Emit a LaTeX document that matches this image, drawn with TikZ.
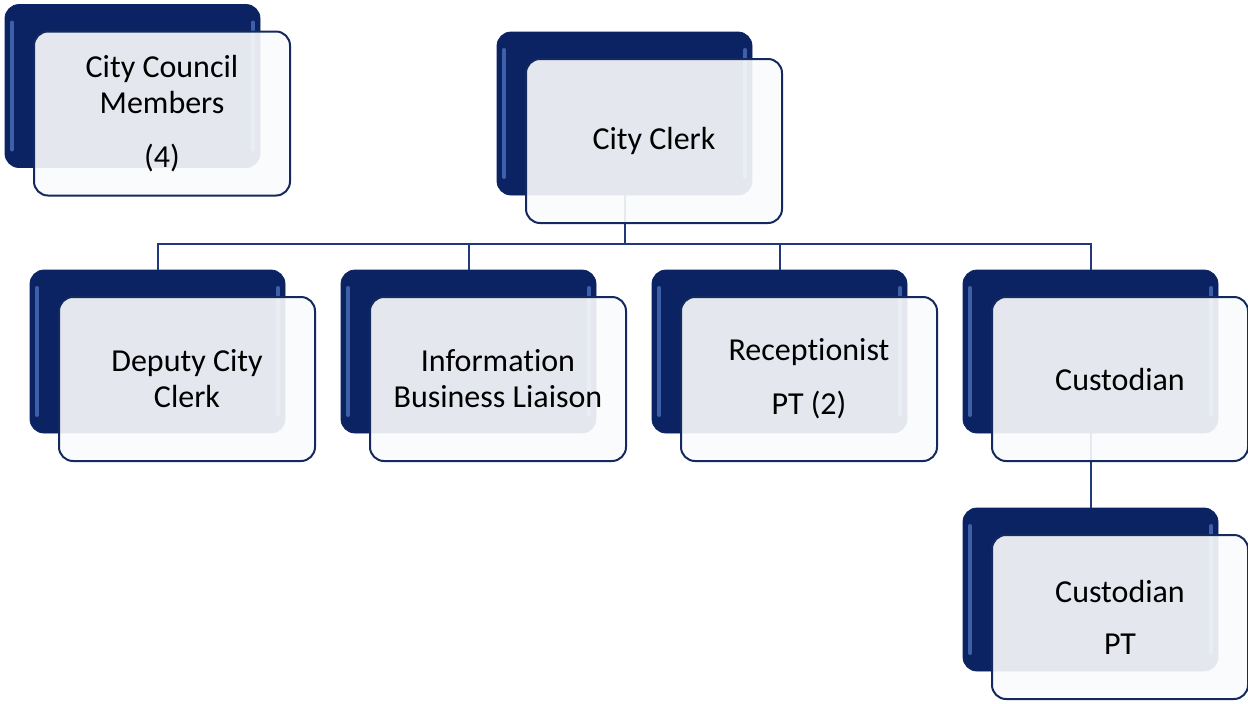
\documentclass[tikz,border=0pt]{standalone}
\usepackage{fontspec}
\setmainfont{Carlito}[Ligatures=NoCommon]
\usetikzlibrary{positioning}
\definecolor{navy}{HTML}{0B2362}
\definecolor{edgeblue}{HTML}{4F74C0}
\definecolor{frameblue}{HTML}{14295E}
\definecolor{frontfill}{HTML}{FAFBFC}
\definecolor{linkblue}{HTML}{21397A}
\begin{document}
\begin{tikzpicture}[x=0.5pt, y=-0.5pt,
    back/.style={rectangle, rounded corners=7pt, fill=navy, draw=navy, inner sep=0pt, outer sep=0pt,
      minimum width=127.5pt, minimum height=81.5pt,
      path picture={\draw[edgeblue!75!navy, line width=2pt, line cap=round]
        ([shift={(3.5pt,-9pt)}]path picture bounding box.north west) -- ([shift={(3.5pt,9pt)}]path picture bounding box.south west)
        ([shift={(-3.5pt,-9pt)}]path picture bounding box.north east) -- ([shift={(-3.5pt,9pt)}]path picture bounding box.south east);}},
    front/.style={rectangle, rounded corners=7pt, draw=frameblue, line width=1pt,
      fill=frontfill, fill opacity=0.91, text opacity=1, inner sep=0pt,
      minimum width=128pt, minimum height=82pt, align=center,
      font=\fontsize{16}{18}\selectfont},
    link/.style={draw=linkblue, line width=1pt},
    node distance=37.5pt and 28pt
  ]
  \useasboundingbox (0,0) rectangle (1248,703);

  % Back boxes
  \node[back] (councilB) at (132.5,86) {};
  \node[back] (clerkB) at (624.5,113.5) {};
  \node[back] (deputyB) at (157.5,351.5) {};
  \node[back, right=of deputyB] (infoB) {};
  \node[back, right=of infoB] (recepB) {};
  \node[back, right=of recepB] (custB) {};
  \node[back, below=of custB] (custptB) {};

  % Connectors
  \coordinate (bus) at ([yshift=-24.5pt]clerkB.south);
  \foreach \n in {deputyB, infoB, recepB, custB}
    \draw[link] (clerkB.south) -- (bus) -| (\n.north);
  \draw[link] (custB.south) -- (custptB.north);

  % Front boxes
  \node[front, below right=13pt and 14pt of councilB.north west] (council) {City Council\\Members\\[9pt](4)};
  \node[front, below right=13pt and 14pt of clerkB.north west] (clerk) {City Clerk};
  \node[front, below right=13pt and 14pt of deputyB.north west] (deputy) {Deputy City\\Clerk};
  \node[front, below right=13pt and 14pt of infoB.north west] (info) {Information\\Business Liaison};
  \node[front, below right=13pt and 14pt of recepB.north west] (recep) {Receptionist\\[9pt]PT (2)};
  \node[front, below right=13pt and 14pt of custB.north west] (cust) {Custodian};
  \node[front, below right=13pt and 14pt of custptB.north west] (custpt) {Custodian\\[8pt]PT};

\end{tikzpicture}
\end{document}
